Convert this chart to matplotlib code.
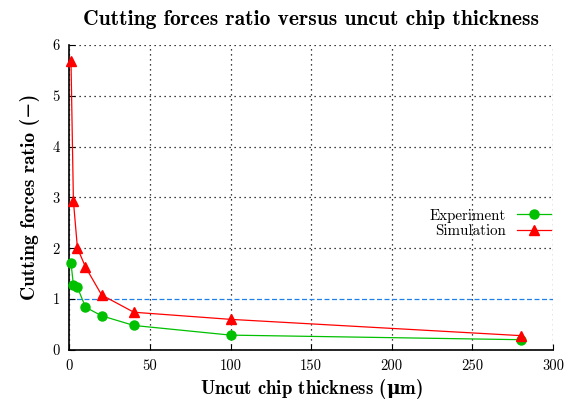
import matplotlib

matplotlib.use("Agg")
import matplotlib.pyplot as plt

# chip thickness (um) and forces ratio
exp_x = [1, 2.5, 5, 10, 20, 40, 100, 280]
exp_y = [1.71, 1.28, 1.23, 0.84, 0.67, 0.48, 0.29, 0.20]
sim_x = [1, 2.5, 5, 10, 20, 40, 100, 280]
sim_y = [5.68, 2.93, 2.00, 1.63, 1.08, 0.74, 0.60, 0.28]
x_ticks = [0, 50, 100, 150, 200, 250, 300]
y_ticks = [0, 1, 2, 3, 4, 5, 6]
REF = 1.0

RM = ["cmr10", "DejaVu Serif"]
BF = ["cmb10", "DejaVu Serif"]
plt.rcParams["axes.unicode_minus"] = False
# greek letter in the axis label comes from mathtext
plt.rcParams["mathtext.fontset"] = "custom"
plt.rcParams["mathtext.rm"] = "DejaVu Serif:bold"
plt.rcParams["mathtext.it"] = "DejaVu Serif:bold"
plt.rcParams["mathtext.bf"] = "DejaVu Serif:bold"

fig = plt.figure(figsize=(5.83, 4.04), dpi=100)
ax = fig.add_axes([0.119, 0.134, 0.8295, 0.755])

for t in x_ticks:
    ax.axvline(t, color="black", ls=(0, (1, 3)), lw=0.9, zorder=0)
for t in y_ticks:
    if t != REF:  # the reference line sits on this one
        ax.axhline(t, color="black", ls=(0, (1, 3)), lw=0.9, zorder=0)
ax.axhline(REF, color="#1f80e8", ls=(0, (4, 2)), lw=0.9, zorder=1)

ax.plot(exp_x, exp_y, color="#00c000", lw=0.9, marker="o", ms=6.5,
        label="Experiment", zorder=3, clip_on=False)
ax.plot(sim_x, sim_y, color="#ff0000", lw=0.9, marker="^", ms=6.5,
        label="Simulation", zorder=3, clip_on=False)

ax.set_xlim(0, 300)
ax.set_ylim(0, 6)
ax.set_xticks(x_ticks)
ax.set_yticks(y_ticks)
ax.set_xticklabels([str(t) for t in x_ticks], family=RM, fontsize=10.5)
ax.set_yticklabels([str(t) for t in y_ticks], family=RM, fontsize=10.5)
ax.tick_params(direction="in", length=4, width=0.8, pad=7)
for s in ("top", "right"):
    ax.spines[s].set_visible(False)
for s in ("left", "bottom"):
    ax.spines[s].set_linewidth(1.2)

ax.set_xlabel(r"Uncut chip thickness ($\mu$m)", family=BF, fontsize=13.5, labelpad=3)
ax.set_ylabel("Cutting forces ratio (\u2212)", family=BF, fontsize=14, labelpad=9)
ax.set_title("Cutting forces ratio versus uncut chip thickness", family=BF,
             fontsize=15.5, pad=14)

leg = ax.legend(loc="center right", bbox_to_anchor=(1.012, 0.415), frameon=False,
                markerfirst=False, handlelength=2.3, handletextpad=0.7,
                labelspacing=0.1, borderaxespad=0.1,
                prop={"family": RM, "size": 10.8})

fig.savefig("out.png", dpi=100)
